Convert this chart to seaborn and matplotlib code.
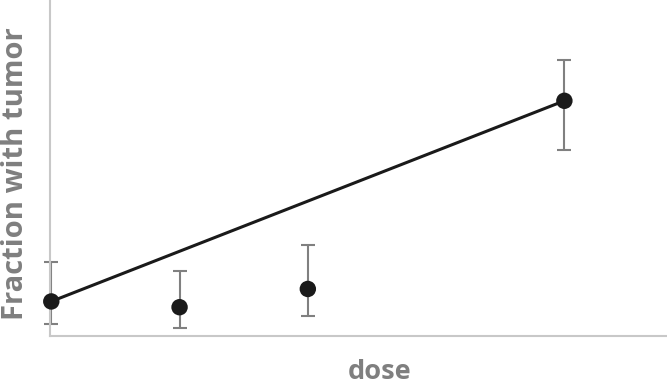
import numpy as np
import pandas as pd
import matplotlib
matplotlib.use("Agg")
import matplotlib.pyplot as plt
import seaborn as sns

dose = [0, 1, 2, 4]
fraction = [0.036, 0.030, 0.049, 0.245]
lower = [0.0125, 0.0083, 0.021, 0.194]
upper = [0.077, 0.068, 0.095, 0.288]

# fitted straight line
fit_dose = [0, 4]
fit_fraction = [0.036, 0.245]

df = pd.DataFrame({"dose": dose, "fraction": fraction, "lower": lower, "upper": upper})
fit = pd.DataFrame({"dose": fit_dose, "fraction": fit_fraction})

sns.set_style("white")
plt.rcParams["font.family"] = ["Open Sans", "DejaVu Sans"]

fig = plt.figure(figsize=(6.67, 3.84), dpi=100)
ax = fig.add_axes([50 / 667, 48 / 384, 617 / 667, 336 / 384])

yerr = np.array([df["fraction"] - df["lower"], df["upper"] - df["fraction"]])
bars = ax.errorbar(df["dose"], df["fraction"], yerr=yerr, fmt="none",
                   ecolor="#808080", elinewidth=1.5, capsize=5, capthick=1.5, zorder=1)
for artist in bars.lines[1] + bars.lines[2]:
    artist.set_clip_on(False)
sns.lineplot(data=fit, x="dose", y="fraction", color="#1a1a1a", lw=2.2, ax=ax,
             zorder=2, clip_on=False)
sns.scatterplot(data=df, x="dose", y="fraction", color="#1a1a1a", s=140,
                edgecolor="none", ax=ax, zorder=3, clip_on=False)

ax.set_xlim(-0.01, 4.8)
ax.set_ylim(0, 0.35)
ax.set_xticks([])
ax.set_yticks([])
for side in ["top", "right"]:
    ax.spines[side].set_visible(False)
for side in ["left", "bottom"]:
    ax.spines[side].set_color("#c8c8c8")
    ax.spines[side].set_linewidth(1.5)

ax.set_xlabel("dose", fontsize=19.5, fontweight="bold", color="#7f7f7f")
ax.set_ylabel("Fraction with tumor", fontsize=21, fontweight="bold", color="#7f7f7f")
ax.xaxis.set_label_coords(0.534, -0.068)
ax.yaxis.set_label_coords(-0.032, 0.482)

fig.savefig("out.png", dpi=100)
